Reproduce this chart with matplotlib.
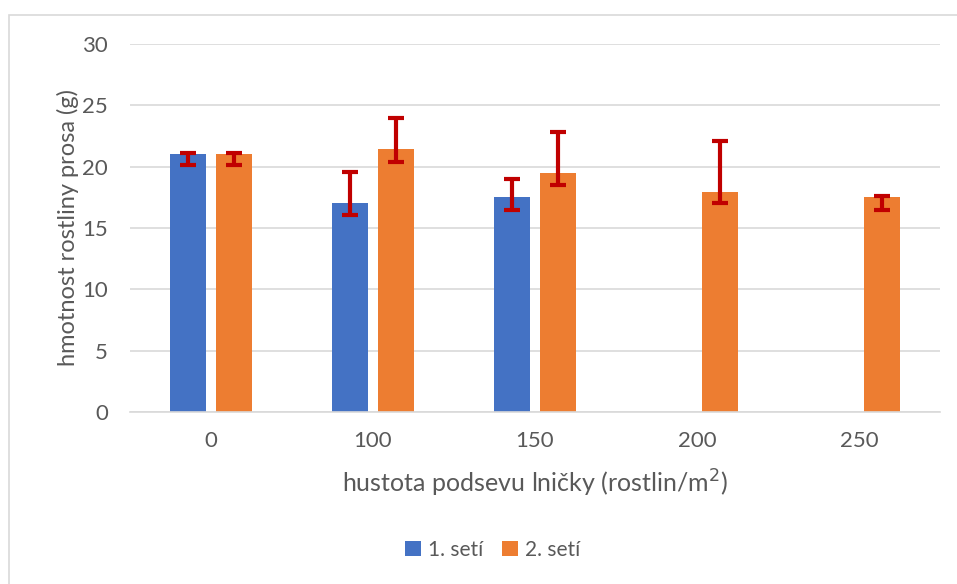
import numpy as np
import matplotlib.pyplot as plt
from matplotlib.patches import Rectangle

# data
categories = ['0', '100', '150', '200', '250']
seti1 = [21.0, 17.0, 17.5, np.nan, np.nan]
seti2 = [21.0, 21.4, 19.45, 17.95, 17.5]
seti1_up = [21.15, 19.55, 19.0, np.nan, np.nan]
seti1_low = [20.1, 16.05, 16.5, np.nan, np.nan]
seti2_up = [21.15, 23.95, 22.85, 22.1, 17.6]
seti2_low = [20.1, 20.4, 18.5, 17.0, 16.5]

plt.rcParams['font.family'] = ['Lato', 'DejaVu Sans']
gray = '#595959'

fig = plt.figure(figsize=(9.57, 5.84), dpi=100)
ax = fig.add_axes([130/957, 1-412/584, 810/957, 368/584])

# chart border (cropped on right / bottom like the original)
fig.patches.append(Rectangle((9/957, -0.1), 1.2, 1-15/584+0.1, transform=fig.transFigure,
                             fill=False, edgecolor='#d9d9d9', lw=1.2))

x = np.arange(len(categories))
w = 0.222
off = 0.142
y1 = np.array(seti1)
y2 = np.array(seti2)
err1 = [y1 - np.array(seti1_low), np.array(seti1_up) - y1]
err2 = [y2 - np.array(seti2_low), np.array(seti2_up) - y2]

ax.bar(x - off, y1, w, color='#4472C4', label='1. setí', zorder=2)
ax.bar(x + off, y2, w, color='#ED7D31', label='2. setí', zorder=2)
ax.errorbar(x - off, y1, yerr=err1, fmt='none', ecolor='#C00000', elinewidth=3,
            capsize=6, capthick=3, zorder=3)
ax.errorbar(x + off, y2, yerr=err2, fmt='none', ecolor='#C00000', elinewidth=3,
            capsize=6, capthick=3, zorder=3)

ax.set_xlim(-0.5, 4.5)
ax.set_ylim(0, 30)
ax.set_yticks(range(0, 31, 5))
ax.set_xticks(x)
ax.set_xticklabels(categories)
ax.yaxis.grid(True, color='#d9d9d9', lw=1.2)
ax.set_axisbelow(True)
for s in ['top', 'right', 'left']:
    ax.spines[s].set_visible(False)
ax.spines['bottom'].set_color('#d9d9d9')
ax.spines['bottom'].set_linewidth(1.2)
ax.tick_params(length=0, labelsize=16, colors=gray, pad=14)
ax.tick_params(axis='y', pad=16)

ax.set_xlabel('hustota podsevu lničky (rostlin/m$^{2}$)', fontsize=18, color=gray, labelpad=12)
ax.set_ylabel('hmotnost rostliny prosa (g)', fontsize=17, color=gray, labelpad=2)

fig.legend(loc='center', bbox_to_anchor=(493/957, 1-550/584), ncol=2, frameon=False,
           fontsize=15, labelcolor=gray, handlelength=0.75, handleheight=0.75,
           handletextpad=0.35, columnspacing=0.9)

plt.savefig('out.png', dpi=100)
